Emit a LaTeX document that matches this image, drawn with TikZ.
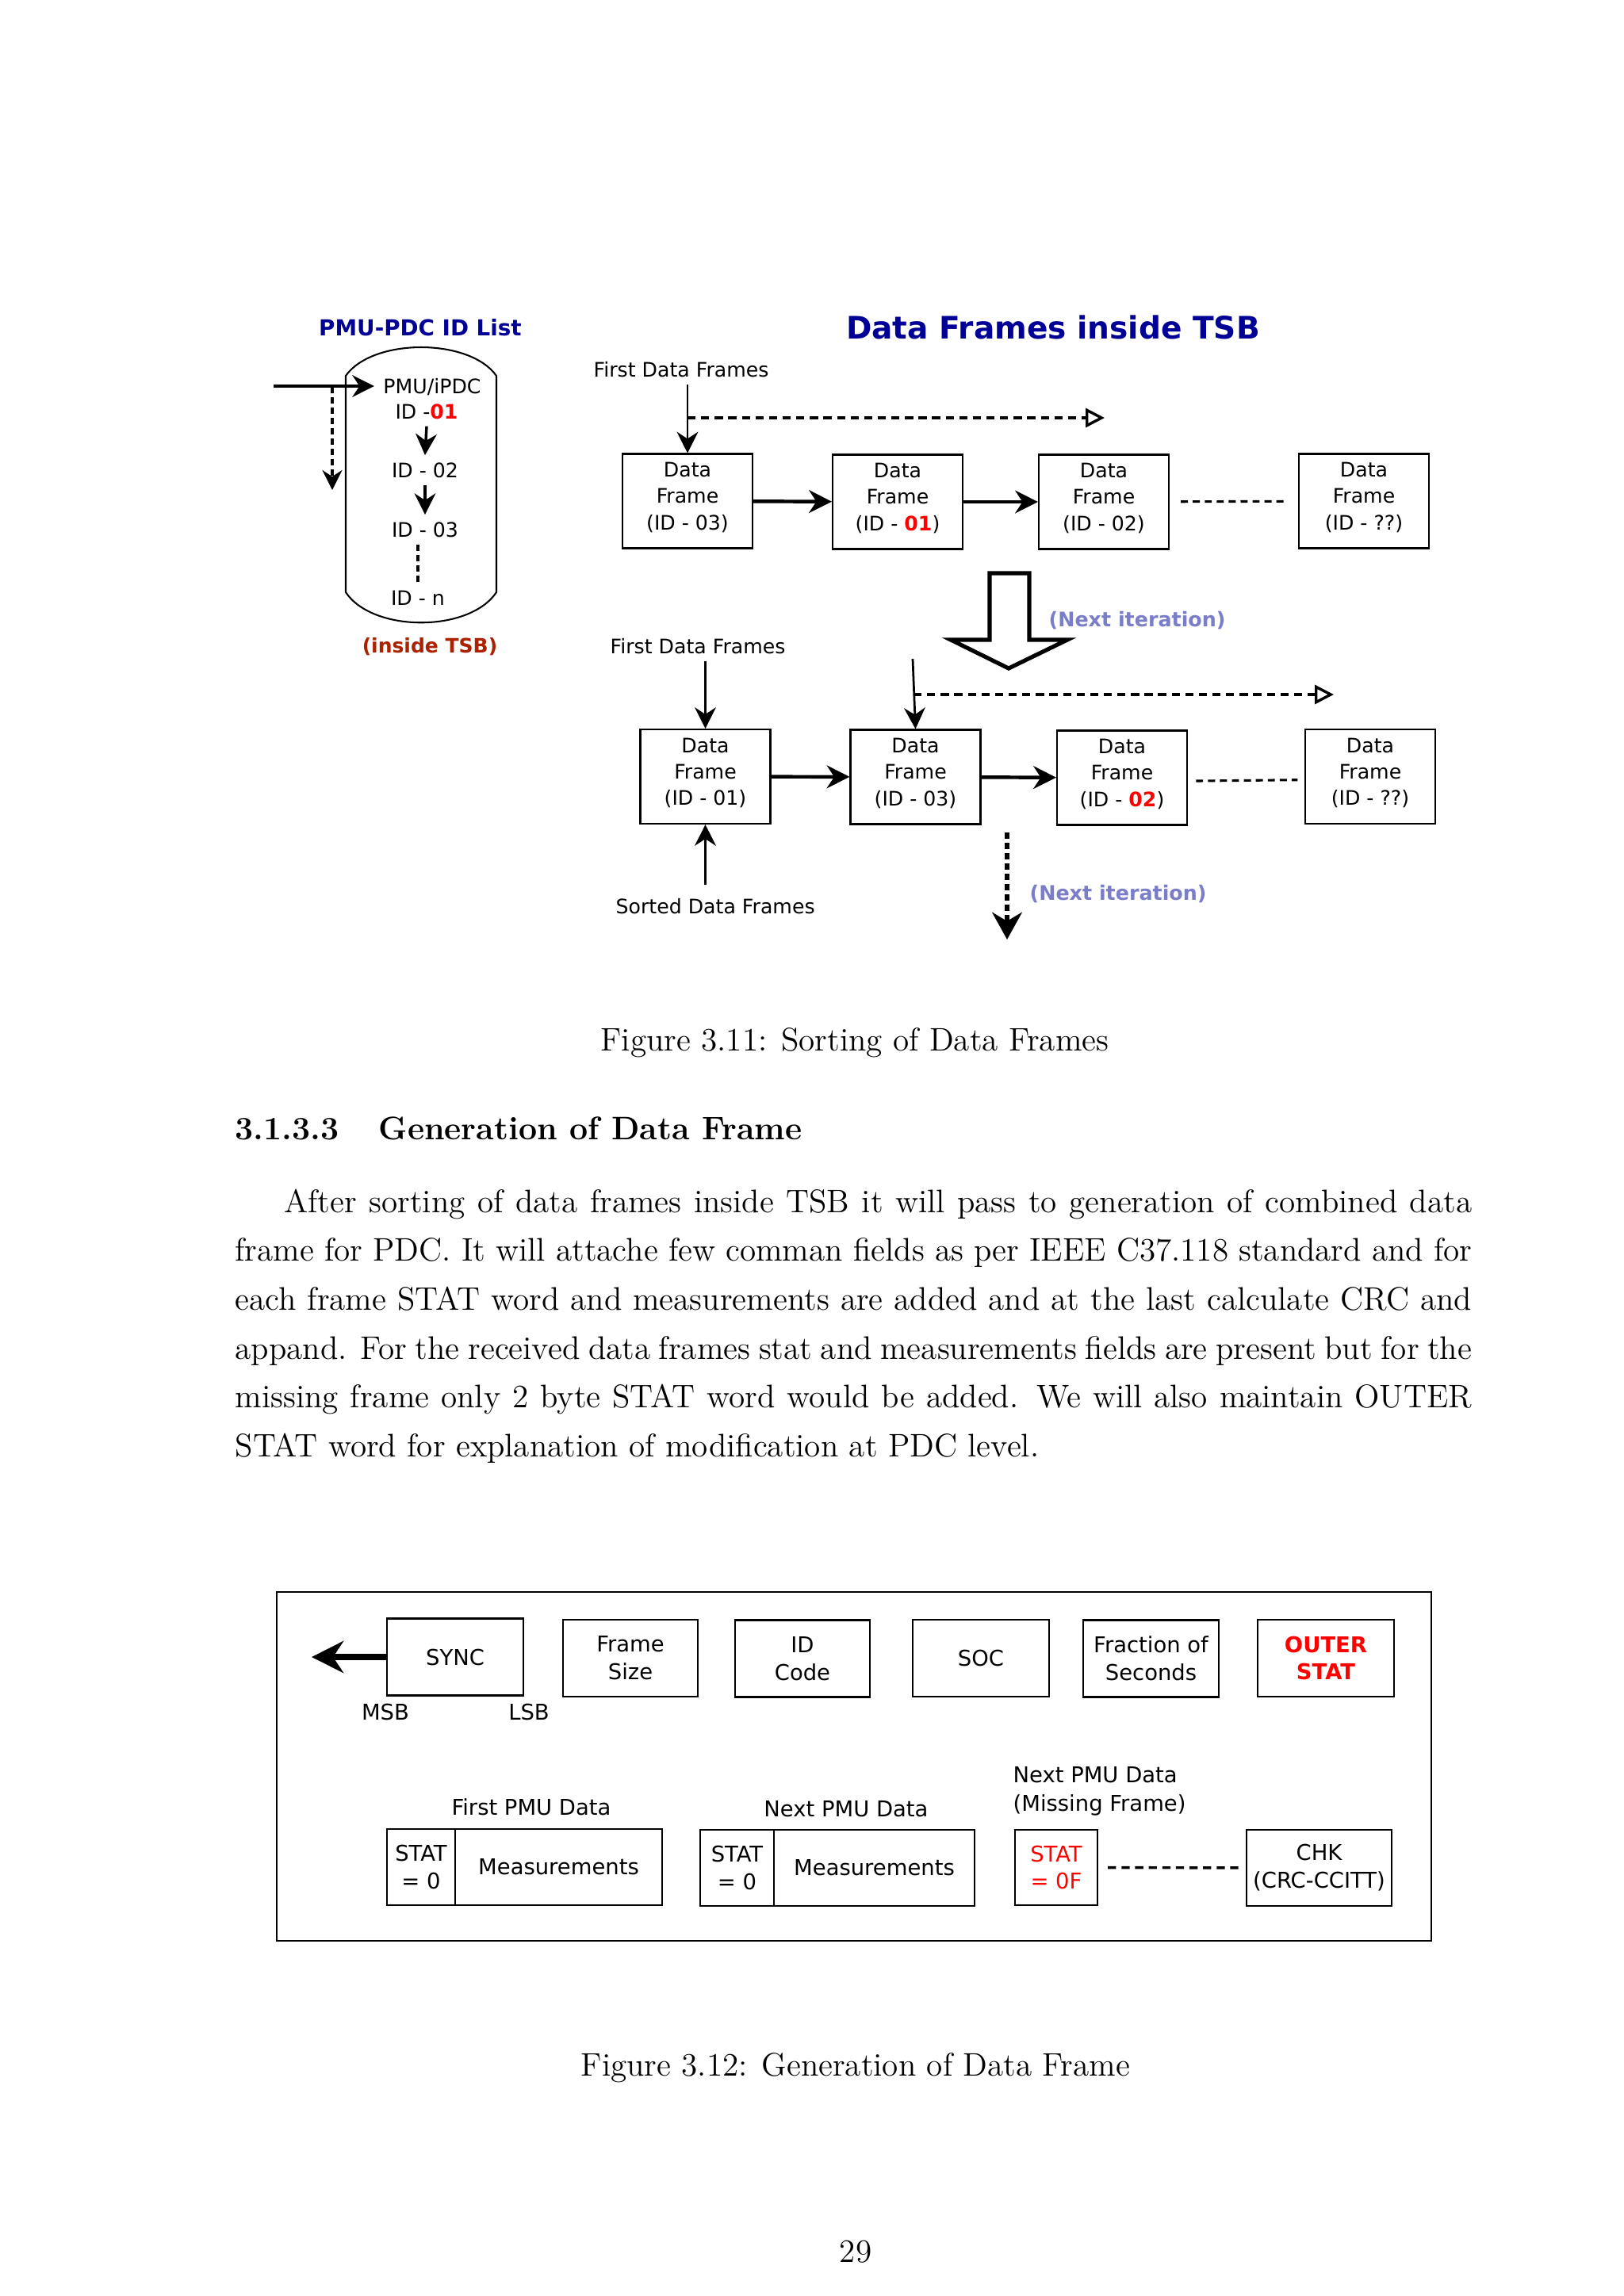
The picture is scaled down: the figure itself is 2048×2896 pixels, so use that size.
\documentclass[tikz,border=0pt]{standalone}
\usepackage{fontspec}
\newfontfamily\dv{DejaVu Sans}
\usetikzlibrary{arrows.meta}
\definecolor{ttlblue}{RGB}{0,0,150}
\definecolor{insred}{RGB}{170,34,0}
\definecolor{iterblue}{RGB}{122,126,200}
\def\pxu{0.291748pt}
\tikzset{
  lbl/.style={inner xsep=0pt, inner ysep=2.5pt, font=\dv\fontsize{7.35}{9.7}\selectfont},
  flbl/.style={inner sep=0pt, font=\dv\fontsize{8}{10.2}\selectfont},
  rmtext/.style={inner sep=0pt, font=\fontsize{12}{18}\selectfont},
  dfbox/.style={draw, line width=0.6pt, minimum width={164*\pxu}, minimum height={119*\pxu}, inner sep=0pt, text depth=3.7pt, align=center, font=\dv\fontsize{7.35}{9.7}\selectfont},
  fldbox/.style={draw, line width=0.7pt, minimum height={97*\pxu}, inner sep=0pt, align=center, font=\dv\fontsize{8}{10.2}\selectfont},
  thinarr/.style={line width=0.8pt, -{Stealth[length=7.8pt,width=7.8pt]}},
  boxarr/.style={line width=1.3pt, -{Stealth[length=8.4pt,width=8.4pt]}},
  cylarr/.style={line width=1pt, -{Stealth[length=7.8pt,width=7.8pt]}},
  inarr/.style={line width=1.2pt, -{Stealth[length=8pt,width=8pt]}},
  dotarr/.style={line width=1pt, dash pattern=on 3pt off 2pt, -{Triangle[open,length=7pt,width=7pt]}},
  sepdash/.style={line width=0.9pt, dash pattern=on 2.6pt off 1.8pt},
  heavydash/.style={line width=1pt, dash pattern=on 2.3pt off 1.5pt},
  heavydasharr/.style={heavydash, -{Stealth[length=7.3pt,width=7.3pt]}},
  downdash/.style={line width=1.5pt, dash pattern=on 2.3pt off 1.5pt, -{Stealth[length=10pt,width=11pt]}},
  fatarr/.style={line width=2.25pt, -{Stealth[length=11.7pt,width=11.7pt]}},
  ttl/.style={inner sep=0pt, text=ttlblue, font=\dv\bfseries},
  iter/.style={inner sep=0pt, text=iterblue, font=\dv\bfseries\fontsize{7.4}{9}\selectfont},
}
\begin{document}
\begin{tikzpicture}[x=\pxu, y=-\pxu]
\useasboundingbox (0,0) rectangle (2048,2896);
\fill[white] (0,0) rectangle (2048,2896);

% ================= Figure 3.11 : left part =================
\node[ttl, anchor=base, font=\dv\bfseries\fontsize{8.1}{10}\selectfont] (listttl) at (530,423) {PMU-PDC ID List};
\draw[line width=0.6pt] (436,474) .. controls (470,426) and (592,426) .. (626,474) -- (626,747)
   .. controls (592,798) and (470,798) .. (436,747) -- cycle;
\node[lbl, anchor=base] (pmu) at (545,496) {PMU/iPDC};
\node[lbl, anchor=base] (id1) at (538,528) {ID -{\bfseries\color{red}01}};
\node[lbl, anchor=base] (id2) at (536,602) {ID - 02};
\node[lbl, anchor=base] (id3) at (536,677) {ID - 03};
\node[lbl, anchor=base] (idn) at (527,763) {ID - n};
\node[anchor=base, inner sep=0pt, text=insred, font=\dv\bfseries\fontsize{7.3}{9}\selectfont] (ins) at (542,823) {(inside TSB)};
\coordinate (inA) at (345,487);
\draw[inarr] (inA) -- ([xshift=-3.2pt]pmu.west |- inA);
\coordinate (dA) at (419,488);
\coordinate (dB) at (419,618);
\draw[heavydasharr] (dA) -- (dB);
\draw[cylarr] (id1.south) -- (id2.north);
\draw[cylarr] (id2.south) -- (id3.north);
\draw[heavydash] (idn.north |- id3.south) -- (idn.north);

% ================= Figure 3.11 : right part =================
\node[ttl, anchor=base, font=\dv\bfseries\fontsize{11.4}{13}\selectfont] (dfttl) at (1328,427) {Data Frames inside TSB};
\node[lbl, anchor=base west] (fdf1) at (748,475) {First Data Frames};

\node[dfbox] (b1) at (867,632) {Data\\Frame\\(ID - 03)};
\node[dfbox] (b2) at (1132,633) {Data\\Frame\\(ID - {\bfseries\color{red}01})};
\node[dfbox] (b3) at (1392,633) {Data\\Frame\\(ID - 02)};
\node[dfbox] (b4) at (1720,632) {Data\\Frame\\(ID - ??)};

\draw[thinarr] (b1.north |- fdf1.south) -- (b1.north);
\coordinate (dot1end) at (1393,527);
\draw[dotarr] (b1.north |- dot1end) -- (dot1end);
\draw[boxarr] (b1) -- (b2);
\draw[boxarr] (b2) -- (b3);
\draw[sepdash, shorten <=4.1pt, shorten >=4.1pt] (b3) -- (b4);

% big hollow arrow
\draw[line width=1.5pt, line join=miter, fill=white] (1248,723) -- (1298,723) -- (1298,807) -- (1346,807)
   -- (1272,843) -- (1199,807) -- (1248,807) -- cycle;
\node[iter, anchor=base west] (nit1) at (1322,790) {(Next iteration)};

\node[lbl, anchor=base west] (fdf2) at (769,824) {First Data Frames};
\node[dfbox] (c1) at (889.5,979.5) {Data\\Frame\\(ID - 01)};
\node[dfbox] (c2) at (1154.5,980) {Data\\Frame\\(ID - 03)};
\node[dfbox] (c3) at (1415,981) {Data\\Frame\\(ID - {\bfseries\color{red}02})};
\node[dfbox] (c4) at (1728,979.5) {Data\\Frame\\(ID - ??)};

\draw[thinarr] (c1.north |- fdf2.south) -- (c1.north);
\coordinate (c2in) at (1151,831);
\draw[thinarr] (c2in) -- (c2.north);
\coordinate (dot2end) at (1682,876);
\draw[dotarr] (1152,876) -- (dot2end);
\draw[boxarr] (c1) -- (c2);
\draw[boxarr] (c2) -- (c3);
\draw[sepdash, shorten <=3pt, shorten >=2.5pt] ([yshift=-1.2pt]c3.east) -- ([yshift=-1.2pt]c4.west);

\node[lbl, anchor=base west] (sdf) at (776,1152) {Sorted Data Frames};
\draw[thinarr, shorten <=2.2pt] (c1.south |- sdf.north) -- (c1.south);

\coordinate (ndA) at (1270,1050);
\coordinate (ndB) at (1270,1185);
\draw[downdash] (ndA) -- (ndB);
\node[iter, anchor=base west] (nit2) at (1298,1135) {(Next iteration)};

% ================= caption, heading, body =================
\node[rmtext, anchor=base] (cap1) at (1078,1325) {Figure 3.11: Sorting of Data Frames};
\node[rmtext, anchor=base west, font=\fontsize{12}{18}\selectfont\bfseries] (secnum) at (296,1437) {3.1.3.3};
\node[rmtext, anchor=base west, font=\fontsize{12}{18}\selectfont\bfseries] (sectitle) at (477,1437) {Generation of Data Frame};
\node[rmtext, anchor=base west] (body) at (296,1529) {\parbox[t]{455pt}{\fontsize{12}{18}\selectfont
\hspace*{18pt}After sorting of data frames inside TSB it will pass to generation of combined data\linebreak
frame for PDC. It will attache few comman fields as per IEEE C37.118 standard and for\linebreak
each frame STAT word and measurements are added and at the last calculate CRC and\linebreak
appand. For the received data frames stat and measurements fields are present but for the\linebreak
missing frame only 2 byte STAT word would be added. We will also maintain OUTER\linebreak
STAT word for explanation of modification at PDC level.}};

% ================= Figure 3.12 =================
\draw[line width=0.8pt] (349,2008) rectangle (1805,2448);

\node[fldbox, minimum width={172*\pxu}] (sync) at (574,2090) {SYNC};
\node[fldbox, minimum width={170*\pxu}] (fsize) at (795,2091.5) {Frame\\Size};
\node[fldbox, minimum width={170*\pxu}] (idcode) at (1012,2092) {ID\\Code};
\node[fldbox, minimum width={172*\pxu}] (soc) at (1237,2091.5) {SOC};
\node[fldbox, minimum width={171*\pxu}] (frac) at (1451.5,2092) {Fraction of\\Seconds};
\node[fldbox, minimum width={172*\pxu}, text=red, font=\dv\bfseries\fontsize{8}{10.2}\selectfont] (outer) at (1672,2091.5) {OUTER\\STAT};

\coordinate (msbtip) at (393,2090);
\draw[fatarr] (sync.west) -- (msbtip);
\node[flbl, anchor=base] (msb) at (486,2169) {MSB};
\node[flbl, anchor=base] (lsb) at (667,2169) {LSB};

\node[flbl, anchor=base] (fpd) at (670,2289) {First PMU Data};
\node[flbl, anchor=base] (npd) at (1067,2291) {Next PMU Data};
\node[flbl, anchor=base west] (npm1) at (1277,2248) {Next PMU Data};
\node[flbl, anchor=base west] (npm2) at (1277,2284) {(Missing Frame)};

\node[fldbox, minimum width={86*\pxu}, minimum height={96*\pxu}] (a1) at (531,2355) {STAT\\= 0};
\node[fldbox, minimum width={261*\pxu}, minimum height={96*\pxu}] (a2) at (704.5,2355) {Measurements};
\node[fldbox, minimum width={93*\pxu}, minimum height={96*\pxu}] (bb1) at (929.5,2356) {STAT\\= 0};
\node[fldbox, minimum width={253*\pxu}, minimum height={96*\pxu}] (bb2) at (1102.5,2356) {Measurements};
\node[fldbox, minimum width={104*\pxu}, minimum height={95*\pxu}, text=red] (cc) at (1332,2355.5) {STAT\\= 0F};
\node[fldbox, minimum width={183*\pxu}, minimum height={96*\pxu}] (dd) at (1663.5,2356) {CHK\\(CRC-CCITT)};
\draw[sepdash, line width=1pt, dash pattern=on 3pt off 2pt, shorten <=3.5pt, shorten >=2.3pt] (cc) -- (dd);

\node[rmtext, anchor=base] (cap2) at (1079,2618) {Figure 3.12: Generation of Data Frame};
\node[rmtext, anchor=base] (pageno) at (1079,2853) {29};
\end{tikzpicture}
\end{document}
